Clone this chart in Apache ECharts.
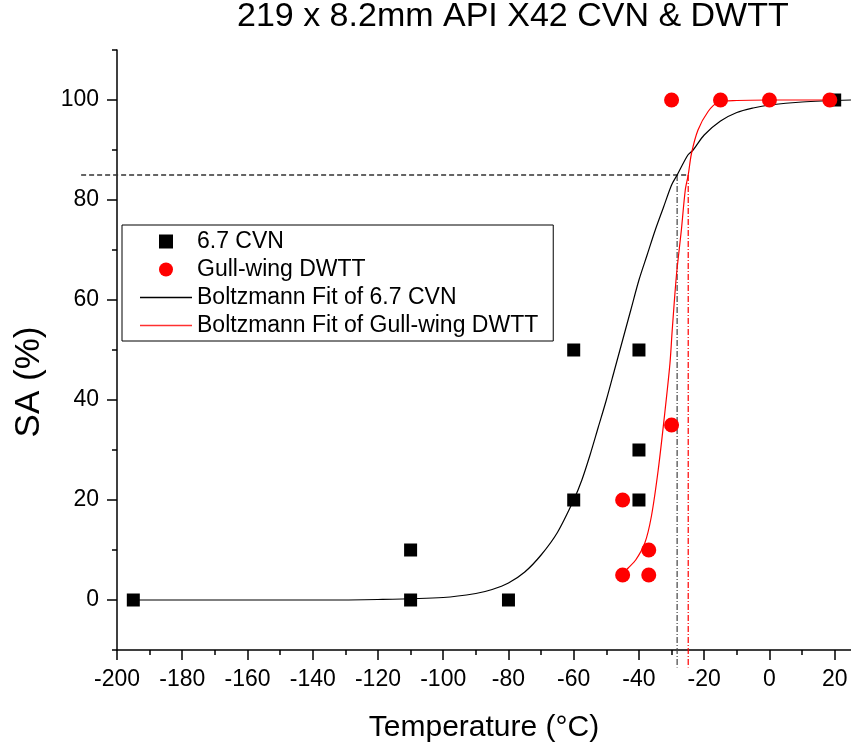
<!DOCTYPE html>
<html>
<head>
<meta charset="utf-8">
<script src="https://cdn.jsdelivr.net/npm/echarts@6/dist/echarts.min.js"></script>
<style>html,body{margin:0;padding:0;background:#fff}#c{width:851px;height:751px}</style>
</head>
<body>
<div id="c"></div>
<script>
// ---- data ----
var cvnTemp = [-195, -110, -110, -80, -60, -60, -40, -40, -40, 20];
var cvnSA   = [0, 10, 0, 0, 50, 20, 50, 30, 20, 100];
var dwttTemp = [-45, -45, -37, -37, -30, -30, -15, 0, 18.5];
var dwttSA   = [20, 5, 10, 5, 35, 100, 100, 100, 100];
// fitted curves
var fitCvnTemp = [-195, -140, -120, -100, -90, -85, -80, -75, -70, -65, -60, -57.5, -55, -52.5, -50, -47.5, -45, -42.5, -40, -37.5, -35, -32.5, -30, -28.3, -25, -23.4, -20, -15, -10, -5, 0, 10, 25];
var fitCvnSA   = [0, 0, 0.1, 0.5, 1.3, 2.1, 3.4, 5.6, 9, 13.5, 20, 24, 29, 34.5, 40, 46, 52, 58, 64, 69, 74, 78.5, 83, 85, 89, 90, 93, 95.8, 97.5, 98.4, 99, 99.6, 100];
var fitDwttTemp = [-45, -43.3, -41, -38.2, -36.2, -34.1, -32.1, -30.5, -29.8, -28.5, -27, -25.8, -24.9, -23.9, -21.9, -18.8, -15.8, -10, 0, 20];
var fitDwttSA   = [5.3, 6.4, 8, 11.4, 16.7, 26, 37.3, 47.3, 54, 65, 74, 82, 85, 89.3, 94, 97.7, 99.5, 99.9, 100, 100];
var refLevel = 85;
var refLineStart = -211;
var refLineEnd = -13.5;
var cvnT85 = -28.3;
var dwttT85 = -24.9;
var xTicks = [-200, -180, -160, -140, -120, -100, -80, -60, -40, -20, 0, 20];
var xMinorTicks = [-190, -170, -150, -130, -110, -90, -70, -50, -30, -10, 10];
var yTicks = [0, 20, 40, 60, 80, 100];
var yMinorTicks = [-10, 10, 30, 50, 70, 90, 110];

function zip(a, b) { return a.map(function (v, i) { return [v, b[i]]; }); }

var FONT = 'Liberation Sans, Arial, sans-serif';
var chart = echarts.init(document.getElementById('c'), null, {renderer: 'canvas'});
var axisLineStyle = {color: '#000', width: 1.5};
var LINE_ICON = 'path://M0,0L52,0L52,1.3L0,1.3Z';

chart.setOption({
  animation: false,
  backgroundColor: '#fff',
  title: {
    text: '219 x 8.2mm API X42 CVN & DWTT',
    left: 237, top: 0, padding: 0,
    textStyle: {fontFamily: FONT, fontSize: 34, fontWeight: 'normal', color: '#000'}
  },
  legend: {
    left: 122, top: 225,
    orient: 'vertical',
    padding: [5, 15, 4, 18],
    itemGap: 5,
    itemWidth: 52,
    itemHeight: 14,
    borderColor: '#000',
    borderWidth: 1,
    backgroundColor: '#fff',
    textStyle: {fontFamily: FONT, fontSize: 23, color: '#000'},
    data: [
      {name: '6.7 CVN', icon: 'path://M0,0L10,0L10,10L0,10Z', itemStyle: {color: '#000', opacity: 1}},
      {name: 'Gull-wing DWTT', icon: 'circle', itemStyle: {color: '#ff0000', opacity: 1}},
      {name: 'Boltzmann Fit of 6.7 CVN', icon: LINE_ICON, itemStyle: {color: '#000'}},
      {name: 'Boltzmann Fit of Gull-wing DWTT', icon: LINE_ICON, itemStyle: {color: '#ff3030'}}
    ]
  },
  grid: {left: 117, top: 50, width: 737, height: 600, containLabel: false},
  xAxis: [
    {
      type: 'value', min: -200, max: 25, position: 'bottom',
      name: 'Temperature (\u00B0C)', nameLocation: 'middle', nameGap: 63,
      nameTextStyle: {fontFamily: FONT, fontSize: 30, color: '#000'},
      axisLine: {show: true, onZero: false, lineStyle: axisLineStyle},
      axisTick: {show: true, customValues: xTicks, length: 10, lineStyle: axisLineStyle},
      axisLabel: {customValues: xTicks, fontFamily: FONT, fontSize: 23, color: '#000', margin: 18},
      splitLine: {show: false}
    },
    {
      type: 'value', min: -200, max: 25, position: 'bottom',
      axisLine: {show: false, onZero: false},
      axisTick: {show: true, customValues: xMinorTicks, length: 5, lineStyle: axisLineStyle},
      axisLabel: {show: false},
      splitLine: {show: false}
    }
  ],
  yAxis: [
    {
      type: 'value', min: -10, max: 110, position: 'left',
      name: 'SA (%)', nameLocation: 'middle', nameGap: 70,
      nameTextStyle: {fontFamily: FONT, fontSize: 35, color: '#000', padding: [0, 64, 0, 0]},
      axisLine: {show: true, onZero: false, lineStyle: axisLineStyle},
      axisTick: {show: true, customValues: yTicks, length: 10, lineStyle: axisLineStyle},
      axisLabel: {customValues: yTicks, fontFamily: FONT, fontSize: 23, color: '#000', margin: 18},
      splitLine: {show: false}
    },
    {
      type: 'value', min: -10, max: 110, position: 'left',
      axisLine: {show: false, onZero: false},
      axisTick: {show: true, customValues: yMinorTicks, length: 5, lineStyle: axisLineStyle},
      axisLabel: {show: false},
      splitLine: {show: false}
    }
  ],
  series: [
    {
      name: 'Boltzmann Fit of 6.7 CVN', type: 'line', data: zip(fitCvnTemp, fitCvnSA),
      symbol: 'none', smooth: 0.3,
      lineStyle: {color: '#000', width: 1.2}, itemStyle: {color: '#000'}, z: 2
    },
    {
      name: 'Boltzmann Fit of Gull-wing DWTT', type: 'line', data: zip(fitDwttTemp, fitDwttSA),
      symbol: 'none', smooth: 0.3,
      lineStyle: {color: '#ff0000', width: 1.2}, itemStyle: {color: '#ff0000'}, z: 2
    },
    {
      name: 'ref85', type: 'custom', clip: false, silent: true, z: 1,
      data: [[refLineStart, refLevel, dwttT85]],
      encode: {x: [0, 2], y: 1},
      renderItem: function (params, api) {
        var p1 = api.coord([api.value(0), api.value(1)]);
        var p2 = api.coord([api.value(2), api.value(1)]);
        return {
          type: 'line',
          shape: {x1: p1[0], y1: p1[1], x2: p2[0], y2: p2[1]},
          style: {stroke: '#333', lineWidth: 1.3, lineDash: [5, 3], fill: null}
        };
      }
    },
    {
      name: 'refCvn', type: 'line', data: [[cvnT85, refLevel], [cvnT85, refLineEnd]],
      symbol: 'none', clip: false, silent: true,
      lineStyle: {color: '#444', width: 1.2, type: [6, 2, 1, 2]}, z: 1
    },
    {
      name: 'refDwtt', type: 'line', data: [[dwttT85, refLevel], [dwttT85, refLineEnd]],
      symbol: 'none', clip: false, silent: true,
      lineStyle: {color: '#ff0000', width: 1.2, type: [6, 2, 1, 2]}, z: 1
    },
    {
      name: '6.7 CVN', type: 'scatter', data: zip(cvnTemp, cvnSA),
      symbol: 'rect', symbolSize: 13, itemStyle: {color: '#000', opacity: 1}, z: 5
    },
    {
      name: 'Gull-wing DWTT', type: 'scatter', data: zip(dwttTemp, dwttSA),
      symbol: 'circle', symbolSize: 15, itemStyle: {color: '#ff0000', opacity: 1}, z: 6
    }
  ]
});
</script>
</body>
</html>
